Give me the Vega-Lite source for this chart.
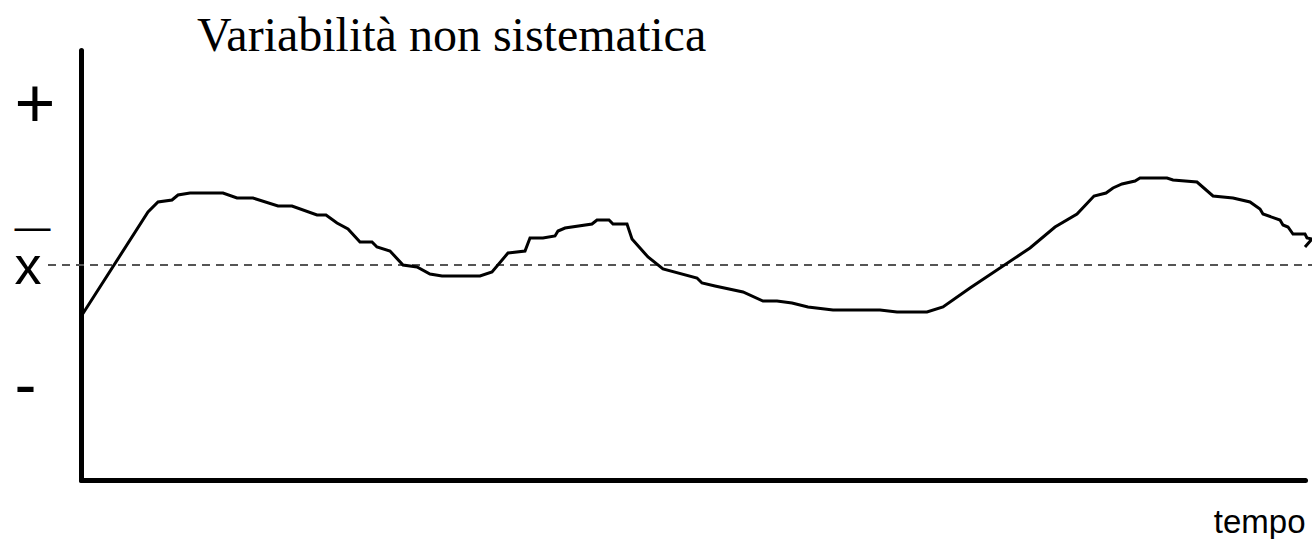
{
  "$schema": "https://vega.github.io/schema/vega-lite/v6.json",
  "autosize": "none",
  "width": 1224,
  "height": 430,
  "padding": {"left": 81, "top": 50, "right": 7, "bottom": 59},
  "background": "white",
  "config": {"view": {"stroke": null}},
  "title": {
    "text": "Variabilità non sistematica",
    "font": "Liberation Serif",
    "fontSize": 48,
    "fontWeight": "normal",
    "color": "black",
    "anchor": "start",
    "frame": "group",
    "baseline": "alphabetic",
    "offset": 0,
    "dx": 116,
    "dy": 49
  },
  "data": {
    "values": [
      {"i": 1, "t": 1, "v": -50},
      {"i": 2, "t": 67, "v": 53},
      {"i": 3, "t": 77, "v": 63},
      {"i": 4, "t": 91, "v": 65},
      {"i": 5, "t": 97, "v": 70},
      {"i": 6, "t": 109, "v": 72},
      {"i": 7, "t": 142, "v": 72},
      {"i": 8, "t": 156, "v": 67},
      {"i": 9, "t": 172, "v": 67},
      {"i": 10, "t": 197, "v": 59},
      {"i": 11, "t": 211, "v": 59},
      {"i": 12, "t": 236, "v": 50},
      {"i": 13, "t": 245, "v": 50},
      {"i": 14, "t": 256, "v": 42},
      {"i": 15, "t": 267, "v": 36},
      {"i": 16, "t": 279, "v": 23},
      {"i": 17, "t": 291, "v": 23},
      {"i": 18, "t": 296, "v": 18},
      {"i": 19, "t": 309, "v": 14},
      {"i": 20, "t": 322, "v": 0},
      {"i": 21, "t": 336, "v": -2},
      {"i": 22, "t": 349, "v": -9},
      {"i": 23, "t": 361, "v": -11},
      {"i": 24, "t": 399, "v": -11},
      {"i": 25, "t": 411, "v": -7},
      {"i": 26, "t": 427, "v": 12},
      {"i": 27, "t": 444, "v": 14},
      {"i": 28, "t": 449, "v": 27},
      {"i": 29, "t": 462, "v": 27},
      {"i": 30, "t": 474, "v": 29},
      {"i": 31, "t": 477, "v": 34},
      {"i": 32, "t": 484, "v": 37},
      {"i": 33, "t": 511, "v": 41},
      {"i": 34, "t": 516, "v": 45},
      {"i": 35, "t": 528, "v": 45},
      {"i": 36, "t": 532, "v": 41},
      {"i": 37, "t": 546, "v": 41},
      {"i": 38, "t": 551, "v": 26},
      {"i": 39, "t": 567, "v": 8},
      {"i": 40, "t": 582, "v": -4},
      {"i": 41, "t": 616, "v": -13},
      {"i": 42, "t": 621, "v": -18},
      {"i": 43, "t": 634, "v": -21},
      {"i": 44, "t": 662, "v": -27},
      {"i": 45, "t": 682, "v": -36},
      {"i": 46, "t": 696, "v": -36},
      {"i": 47, "t": 711, "v": -38},
      {"i": 48, "t": 727, "v": -42},
      {"i": 49, "t": 752, "v": -45},
      {"i": 50, "t": 799, "v": -45},
      {"i": 51, "t": 816, "v": -47},
      {"i": 52, "t": 846, "v": -47},
      {"i": 53, "t": 862, "v": -42},
      {"i": 54, "t": 889, "v": -23},
      {"i": 55, "t": 949, "v": 17},
      {"i": 56, "t": 974, "v": 38},
      {"i": 57, "t": 996, "v": 51},
      {"i": 58, "t": 1013, "v": 69},
      {"i": 59, "t": 1025, "v": 72},
      {"i": 60, "t": 1032, "v": 77},
      {"i": 61, "t": 1041, "v": 81},
      {"i": 62, "t": 1054, "v": 84},
      {"i": 63, "t": 1059, "v": 87},
      {"i": 64, "t": 1086, "v": 87},
      {"i": 65, "t": 1092, "v": 85},
      {"i": 66, "t": 1116, "v": 83},
      {"i": 67, "t": 1132, "v": 69},
      {"i": 68, "t": 1152, "v": 67},
      {"i": 69, "t": 1169, "v": 63},
      {"i": 70, "t": 1179, "v": 56},
      {"i": 71, "t": 1182, "v": 51},
      {"i": 72, "t": 1199, "v": 45},
      {"i": 73, "t": 1202, "v": 40},
      {"i": 74, "t": 1207, "v": 38},
      {"i": 75, "t": 1212, "v": 31},
      {"i": 76, "t": 1224, "v": 31},
      {"i": 77, "t": 1226, "v": 27},
      {"i": 78, "t": 1231, "v": 26},
      {"i": 79, "t": 1224, "v": 18}
    ]
  },
  "layer": [
    {
      "mark": {"type": "rule", "color": "#555555", "strokeWidth": 1.3, "strokeDash": [8, 6], "clip": false},
      "encoding": {
        "x": {"datum": -33, "type": "quantitative"},
        "x2": {"datum": 1231},
        "y": {"datum": 0, "type": "quantitative"}
      }
    },
    {
      "mark": {"type": "line", "color": "black", "strokeWidth": 3, "clip": false},
      "encoding": {
        "x": {
          "field": "t",
          "type": "quantitative",
          "scale": {"domain": [0, 1224], "nice": false, "zero": false},
          "axis": {
            "title": "tempo",
            "titleFont": "Liberation Sans",
            "titleFontSize": 33,
            "titleFontWeight": "normal",
            "titleColor": "black",
            "titleAnchor": "end",
            "titleAlign": "right",
            "titleBaseline": "alphabetic",
            "titleX": 1224,
            "titleY": 52,
            "labels": false,
            "ticks": false,
            "grid": false,
            "domainColor": "black",
            "domainWidth": 5,
            "domainCap": "round"
          }
        },
        "y": {
          "field": "v",
          "type": "quantitative",
          "scale": {"domain": [-215, 215], "nice": false, "zero": false},
          "axis": {
            "title": null,
            "values": [139, 26.4, -18, -141],
            "labelExpr": "datum.value == 139 ? '+' : datum.value == -18 ? 'x' : datum.value == -141 ? '-' : '—'",
            "labelFont": "Liberation Sans",
            "labelColor": "black",
            "labelFontSize": {
              "condition": [
                {"test": "datum.value == 139", "value": 70},
                {"test": "datum.value == -18", "value": 54},
                {"test": "datum.value == -141", "value": 66}
              ],
              "value": 36
            },
            "labelAlign": "left",
            "labelBaseline": "alphabetic",
            "labelPadding": 67,
            "labelOverlap": false,
            "labelBound": false,
            "labelFlush": false,
            "ticks": false,
            "tickSize": 0,
            "grid": false,
            "domainColor": "black",
            "domainWidth": 5,
            "domainCap": "round"
          }
        },
        "order": {"field": "i", "type": "quantitative"}
      }
    }
  ]
}
